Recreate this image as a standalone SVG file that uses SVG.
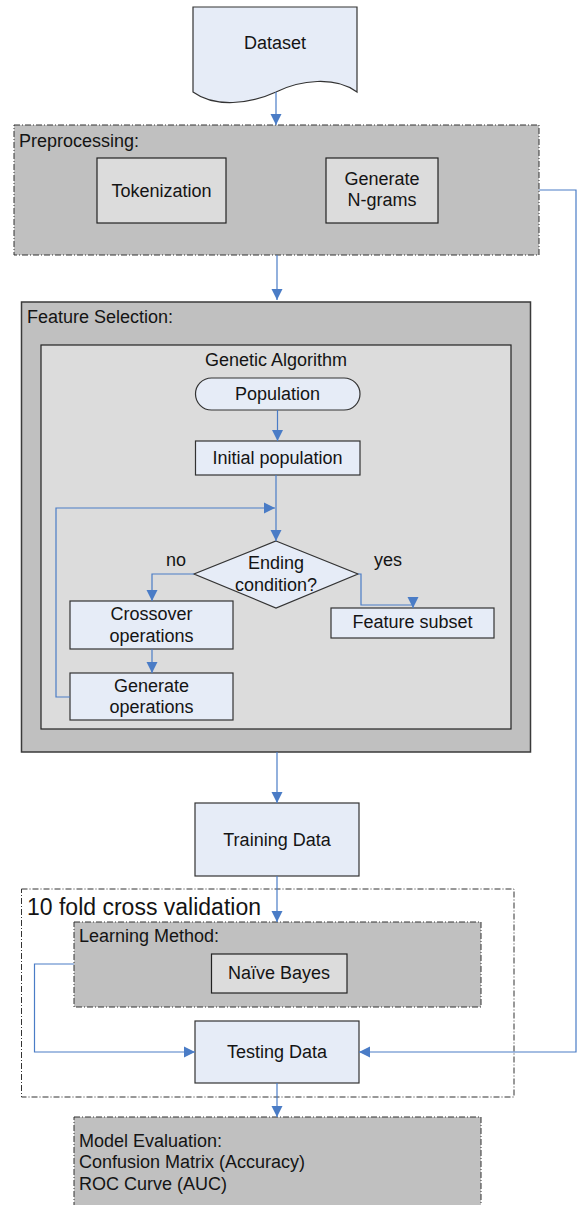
<svg xmlns="http://www.w3.org/2000/svg" width="581" height="1205" viewBox="0 0 581 1205">
<style>
text{font-family:"Liberation Sans",Arial,sans-serif;font-size:18px;fill:#141414}
.c{text-anchor:middle}
.blue{fill:#e6ecf7;stroke:#333;stroke-width:1.2}
.lg{fill:#dcdcdc;stroke:#222;stroke-width:1.2}
.dd{fill:#c0c0c0;stroke:#333;stroke-width:1;stroke-dasharray:6 2 1 2}
.dw{fill:none;stroke:#333;stroke-width:1;stroke-dasharray:6 2 1 2}
.solid{fill:#c0c0c0;stroke:#3a3a3a;stroke-width:1.5}
.con{fill:none;stroke:#4a7cc6;stroke-width:1.2;marker-end:url(#ah)}
.conn{fill:none;stroke:#4a7cc6;stroke-width:1.2}
</style>
<defs>
<marker id="ah" viewBox="0 0 10 10" refX="10" refY="5" markerWidth="11" markerHeight="12" markerUnits="userSpaceOnUse" orient="auto">
<path d="M0,0 L10,5 L0,10 z" fill="#4a7cc6"/>
</marker>
</defs>
<g id="dataset">
<path class="blue" d="M193,7 H357 V92 C335,76 300,80 276,92 C250,104 215,108 193,92 Z"/>
<text class="c" x="275" y="49">Dataset</text>
</g>
<g id="preprocessing">
<rect class="dd" x="14" y="125" width="525" height="130"/>
<text x="19" y="147">Preprocessing:</text>
</g>
<g id="tokenization">
<rect class="lg" x="97" y="158" width="129" height="65"/>
<text class="c" x="161.5" y="197">Tokenization</text>
</g>
<g id="ngrams">
<rect class="lg" x="326" y="158" width="112" height="65"/>
<text class="c" x="382" y="185">Generate</text>
<text class="c" x="382" y="206">N-grams</text>
</g>
<g id="featureselection">
<rect class="solid" x="21.5" y="302" width="509" height="450"/>
<text x="27" y="323">Feature Selection:</text>
</g>
<g id="genetic">
<rect class="lg" x="41" y="345" width="470" height="384"/>
<text class="c" x="276" y="366">Genetic Algorithm</text>
</g>
<g id="population">
<rect class="blue" x="195.5" y="378" width="164.5" height="32" rx="16"/>
<text class="c" x="277.5" y="400">Population</text>
</g>
<g id="initial">
<rect class="blue" x="195.5" y="441" width="164.5" height="34"/>
<text class="c" x="277.5" y="464">Initial population</text>
</g>
<g id="ending">
<path class="blue" d="M276,541 L358,574 L276,608 L194,574 Z"/>
<text class="c" x="276" y="569">Ending</text>
<text class="c" x="276" y="591">condition?</text>
</g>
<g id="crossover">
<rect class="blue" x="70" y="601" width="163" height="48"/>
<text class="c" x="151.5" y="620">Crossover</text>
<text class="c" x="151.5" y="642">operations</text>
</g>
<g id="generateops">
<rect class="blue" x="70" y="673" width="163" height="47"/>
<text class="c" x="151.5" y="692">Generate</text>
<text class="c" x="151.5" y="713">operations</text>
</g>
<g id="featuresubset">
<rect class="blue" x="331" y="608" width="163" height="30"/>
<text class="c" x="412.5" y="628">Feature subset</text>
</g>
<g id="training">
<rect class="blue" x="195" y="803" width="164" height="73"/>
<text class="c" x="277" y="846">Training Data</text>
</g>
<g id="crossvalidation">
<rect class="dw" x="21.5" y="889" width="492.5" height="208"/>
<text x="27" y="915" style="font-size:23px">10 fold cross validation</text>
</g>
<g id="learning">
<rect class="dd" x="74" y="922" width="407" height="85"/>
<text x="79" y="942">Learning Method:</text>
</g>
<g id="naivebayes">
<rect class="lg" x="211.5" y="954" width="135.5" height="39"/>
<text class="c" x="279" y="979">Naïve Bayes</text>
</g>
<g id="testing">
<rect class="blue" x="195" y="1021" width="164" height="62"/>
<text class="c" x="277" y="1058">Testing Data</text>
</g>
<g id="evaluation">
<rect class="dd" x="74" y="1117" width="407" height="95"/>
<text x="79" y="1147">Model Evaluation:</text>
<text x="79" y="1168">Confusion Matrix (Accuracy)</text>
<text x="79" y="1190">ROC Curve (AUC)</text>
</g>
<g id="labels">
<text class="c" x="176" y="566">no</text>
<text class="c" x="388" y="566">yes</text>
</g>
<g id="connectors">
<path class="con" d="M276,92 V125"/>
<path class="con" d="M277,255 V300"/>
<path class="con" d="M539,190 H576 V1052 H359"/>
<path class="con" d="M277,752 V803"/>
<path class="con" d="M277.5,410 V441"/>
<path class="con" d="M276,475 V541"/>
<path class="con" d="M70,697 H56 V508 H275"/>
<path class="con" d="M194,574 H152 V601"/>
<path class="con" d="M152,649 V673"/>
<path class="con" d="M358,574 H361 V605 H413 M413,597 V608"/>
<path class="con" d="M277,876 V922"/>
<path class="con" d="M74,964 H34.5 V1052 H195"/>
<path class="con" d="M277,1083 V1117"/>
</g>
</svg>
